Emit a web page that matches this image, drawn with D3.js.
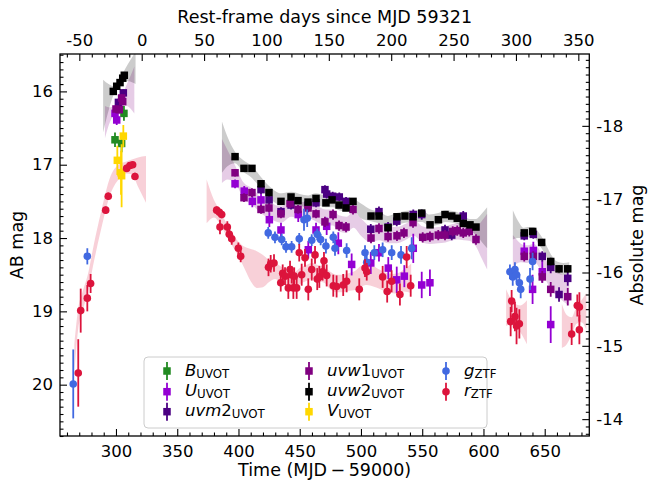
<!DOCTYPE html>
<html><head><meta charset="utf-8">
<script src="https://cdn.jsdelivr.net/npm/d3@7"></script>
<style>body{margin:0;background:#fff} svg{display:block} text{font-family:"DejaVu Sans",sans-serif;fill:#000}</style>
</head><body><svg id="c" width="649" height="487"></svg>
<script>
const redshift = 0.0184, distMod = 34.47, t0 = 321;
const xTicks = [300,350,400,450,500,550,600,650];
const topTicks = [-50,0,50,100,150,200,250,300,350];
const yTicks = [16,17,18,19,20];
const absTicks = [-18,-17,-16,-15,-14];

// [time, mag, err]
const B_UVOT = [[299.2,16.66,0.10],[304.6,16.71,0.12],[306.5,16.30,0.10]];
const U_UVOT = [[299.2,16.30,0.06],[300.6,16.39,0.07],
[397.2,17.26,0.06],[404.7,17.36,0.07],[411.3,17.50,0.08],[418.4,17.48,0.08],[425.2,17.75,0.10],[434.7,17.89,0.10],[448.8,17.68,0.10],[457.0,18.16,0.12],[463.3,17.89,0.10],[472.0,17.84,0.12],[481.5,18.07,0.15],[492.4,18.36,0.15],[508.0,18.34,0.15],[514.7,18.20,0.12],[522.3,18.41,0.15],[529.2,18.57,0.18],[535.4,18.52,0.15],[542.7,18.14,0.20],[549.6,18.64,0.18],[556.3,18.61,0.18],
[633.3,18.18,0.12],[640.1,18.70,0.20],[640.7,18.17,0.12],[648.0,18.46,0.15],[654.9,19.18,0.25]];
const uvm2_UVOT = [[302.0,16.15,0.05],[306.0,16.02,0.05],
[418.4,17.34,0.06],[425.0,17.48,0.06],[434.7,17.64,0.06],[442.9,17.55,0.06],[456.8,17.55,0.06],[463.3,17.52,0.06],[470.6,17.34,0.06],[472.0,17.40,0.06],[476.9,17.43,0.06],[482.3,17.44,0.06],[487.8,17.50,0.06],[508.0,17.88,0.07],[514.7,17.64,0.07],[522.1,17.85,0.07],[529.2,17.77,0.07],[542.7,17.68,0.07],[549.6,17.68,0.07],[568.6,17.89,0.07],[574.1,17.96,0.07],[583.5,17.70,0.07],
[633.3,17.97,0.06],[640.7,17.95,0.06],[648.0,18.25,0.07],[654.9,18.40,0.08],[661.7,18.77,0.10],[668.8,18.55,0.10]];
const uvw1_UVOT = [[300.0,16.24,0.05],[302.7,16.25,0.05],[304.6,16.09,0.05],[305.5,16.14,0.05],
[397.2,17.11,0.05],[404.5,17.45,0.06],[411.0,17.38,0.06],[418.4,17.61,0.06],[424.9,17.59,0.06],[434.7,17.67,0.06],[442.1,17.53,0.06],[448.6,17.61,0.06],[456.8,17.59,0.06],[463.3,17.67,0.06],[470.6,17.78,0.07],[477.2,17.68,0.07],[482.1,17.83,0.07],[487.8,17.85,0.07],[493.5,17.61,0.07],[508.2,18.00,0.07],[514.7,17.87,0.07],[522.1,17.98,0.07],[529.4,17.97,0.07],[535.1,17.93,0.07],[542.5,17.79,0.07],[550.4,17.99,0.07],[556.3,17.98,0.07],[563.1,17.96,0.07],[568.6,17.96,0.07],[574.9,17.91,0.07],[578.6,17.90,0.07],[583.5,17.93,0.07],[588.4,17.91,0.07],[593.9,18.02,0.07],
[633.3,18.25,0.07],[640.7,18.25,0.07],[648.0,18.53,0.08],[654.9,18.70,0.10],[668.8,18.80,0.12]];
const uvw2_UVOT = [[297.8,16.00,0.04],[300.6,15.93,0.04],[303.3,15.88,0.04],[305.5,15.82,0.04],[306.8,15.78,0.04],
[397.2,16.89,0.04],[404.5,17.05,0.04],[411.0,17.05,0.04],[418.4,17.26,0.04],[424.9,17.38,0.04],[434.7,17.50,0.04],[442.9,17.44,0.04],[448.6,17.49,0.04],[456.8,17.51,0.04],[463.3,17.46,0.04],[471.4,17.52,0.04],[476.4,17.48,0.04],[482.1,17.55,0.04],[487.8,17.59,0.04],[493.5,17.50,0.04],[508.2,17.70,0.04],[514.7,17.70,0.04],[522.1,17.86,0.04],[529.4,17.71,0.04],[535.9,17.70,0.04],[542.5,17.71,0.04],[549.6,17.66,0.04],[556.4,17.82,0.04],[563.2,17.75,0.04],[568.6,17.68,0.04],[574.1,17.70,0.04],[578.6,17.73,0.04],[583.5,17.80,0.04],[589.0,17.82,0.04],[593.9,17.85,0.04],
[633.3,17.93,0.04],[640.2,17.91,0.04],[647.5,18.06,0.04],[654.9,18.32,0.05],[661.7,18.42,0.05],[668.8,18.42,0.05]];
const V_UVOT = [[301.1,16.94,0.20],[304.1,17.11,0.30],[304.6,17.15,0.43],[306.0,16.61,0.15]];
const g_ZTF = [[265.1,19.99,0.47],[276.6,18.25,0.11],
[424.3,17.93,0.08],[429.8,17.99,0.08],[435.3,18.02,0.08],[438.8,18.12,0.08],[443.4,18.12,0.08],[449.6,18.01,0.08],[453.5,17.75,0.15],[456.1,17.73,0.12],[459.8,18.03,0.08],[464.3,17.95,0.08],[467.1,18.02,0.08],[471.4,18.11,0.10],[477.4,17.99,0.08],[478.8,18.14,0.10],[488.3,18.17,0.10],[503.3,18.20,0.10],[504.7,18.33,0.12],[510.9,18.20,0.10],[517.7,18.16,0.10],[525.1,18.20,0.10],[532.7,18.23,0.12],[541.4,18.14,0.15],
[621.6,18.46,0.10],[623.9,18.53,0.12],[625.7,18.43,0.10],[627.0,18.50,0.10],[629.3,18.61,0.12],[630.4,18.70,0.12],[638.0,18.56,0.15],[640.1,18.32,0.12]];
const r_ZTF = [[269.2,19.84,0.46],[271.2,18.99,0.30],[276.6,18.82,0.18],[279.3,18.62,0.13],[291.6,17.62,0.05],[293.7,17.43,0.05],[308.7,17.05,0.05],[311.4,17.01,0.04],[313.6,17.00,0.04],[315.5,17.16,0.05],
[382.2,17.62,0.05],[384.4,17.65,0.05],[386.3,17.68,0.05],[384.9,17.85,0.10],[390.9,17.85,0.08],[392.5,17.95,0.08],[394.5,18.01,0.08],[399.9,18.14,0.08],[401.8,18.25,0.08],[424.5,18.40,0.12],[426.3,18.35,0.12],[429.0,18.34,0.12],[434.5,18.61,0.12],[436.1,18.48,0.12],[438.0,18.52,0.12],[440.7,18.68,0.15],[442.1,18.43,0.12],[443.4,18.50,0.12],[444.8,18.68,0.15],[445.5,18.52,0.12],[447.5,18.68,0.15],[449.6,18.20,0.12],[451.6,18.50,0.15],[454.3,18.27,0.12],[457.0,18.70,0.15],[459.8,18.43,0.15],[462.5,18.23,0.12],[464.3,18.56,0.15],[466.0,18.53,0.15],[468.7,18.46,0.12],[469.8,18.31,0.12],[472.0,18.51,0.15],[477.4,18.65,0.15],[480.1,18.66,0.15],[485.5,18.64,0.15],[488.3,18.59,0.15],[498.6,18.70,0.15],[503.3,18.41,0.12],[504.7,18.46,0.12],[517.7,18.53,0.15],[521.4,18.73,0.15],[525.0,18.59,0.15],[531.8,18.77,0.15],[537.3,18.26,0.15],[540.6,18.65,0.15],
[622.2,19.14,0.20],[623.0,18.86,0.15],[625.7,19.07,0.20],[627.0,19.20,0.25],[629.3,19.17,0.20],[672.0,19.31,0.15],[676.6,18.92,0.15],[678.3,18.94,0.20],[678.3,19.25,0.20]];

// Model bands: [time, mean mag, half-width]
const w2Early = [[289.5,16.20,0.36],[294,16.08,0.18],[298,15.99,0.06],[302,15.91,0.05],[306,15.80,0.06],[310,15.74,0.12],[316,15.68,0.22]];
const w2Mid = [[386.5,16.76,0.35],[391,16.82,0.20],[397,16.90,0.08],[404,17.02,0.08],[411,17.10,0.08],[418,17.24,0.08],[425,17.37,0.08],[435,17.47,0.08],[443,17.45,0.08],[450,17.48,0.08],[457,17.50,0.08],[463,17.47,0.08],[471,17.50,0.08],[477,17.50,0.08],[482,17.54,0.08],[488,17.56,0.08],[494,17.55,0.08],[500,17.63,0.10],[508,17.69,0.08],[515,17.72,0.08],[522,17.78,0.08],[529,17.74,0.08],[536,17.71,0.08],[543,17.70,0.08],[550,17.70,0.08],[556,17.76,0.08],[563,17.74,0.08],[569,17.70,0.08],[575,17.71,0.08],[579,17.73,0.08],[584,17.78,0.08],[589,17.82,0.08],[594,17.85,0.11],[598,17.86,0.18],[603,17.86,0.28]];
const w2Late = [[624,17.82,0.20],[628,17.88,0.12],[633,17.93,0.07],[637,17.92,0.07],[641,17.92,0.07],[645,18.00,0.08],[649,18.10,0.08],[655,18.30,0.08],[660,18.40,0.08],[665,18.42,0.08],[670,18.42,0.09]];
const w1Early = [[291,16.42,0.22],[295,16.32,0.10],[299,16.25,0.06],[302,16.20,0.06],[305,16.12,0.07],[309,16.05,0.15],[315,15.98,0.32]];
const w1Mid = [[386.5,16.95,0.30],[391,17.00,0.20],[397,17.12,0.12],[404,17.35,0.11],[411,17.43,0.11],[418,17.55,0.11],[425,17.62,0.11],[435,17.68,0.11],[443,17.60,0.11],[450,17.62,0.11],[457,17.62,0.11],[463,17.66,0.11],[471,17.72,0.11],[477,17.72,0.11],[482,17.80,0.11],[488,17.82,0.11],[494,17.75,0.11],[500,17.85,0.12],[508,17.95,0.11],[515,17.92,0.11],[522,17.96,0.11],[529,17.96,0.11],[536,17.92,0.11],[543,17.86,0.11],[550,17.95,0.11],[556,17.97,0.11],[563,17.96,0.11],[569,17.95,0.11],[575,17.92,0.11],[579,17.91,0.11],[584,17.92,0.11],[589,17.93,0.11],[594,17.98,0.14],[598,18.02,0.24],[603,18.05,0.38]];
const w1Late = [[624,18.18,0.22],[630,18.20,0.13],[635,18.22,0.12],[641,18.20,0.12],[648,18.35,0.13],[655,18.55,0.15],[662,18.65,0.17],[670,18.72,0.20]];
const rEarly = [[266,19.65,0.20],[269,19.12,0.14],[273,18.85,0.13],[277,18.62,0.12],[282,18.20,0.12],[288,17.75,0.12],[295,17.30,0.12],[302,17.10,0.10],[308,17.04,0.08],[313,17.03,0.10],[318,17.10,0.20],[324.5,17.20,0.32]];
const rMid = [[374,17.50,0.30],[380,17.60,0.12],[385,17.72,0.09],[390,17.88,0.09],[395,18.02,0.09],[400,18.15,0.10],[405,18.27,0.15],[410,18.37,0.22],[415,18.43,0.25],[420,18.45,0.22],[425,18.45,0.15],[430,18.45,0.11],[435,18.50,0.11],[440,18.55,0.11],[445,18.58,0.11],[450,18.52,0.11],[455,18.48,0.11],[460,18.45,0.11],[465,18.48,0.11],[470,18.50,0.11],[475,18.58,0.12],[480,18.62,0.12],[485,18.62,0.12],[490,18.60,0.12],[495,18.58,0.13],[500,18.52,0.14],[505,18.50,0.14],[510,18.52,0.14],[515,18.56,0.13],[520,18.60,0.13],[525,18.62,0.13],[530,18.62,0.14],[535,18.58,0.15],[541,18.55,0.20]];
const rLate1 = [[618.5,18.95,0.25],[622,19.00,0.18],[626,19.05,0.15],[630,19.10,0.18],[635.5,19.15,0.30]];
const rLate2 = [[664,19.20,0.30],[668,19.25,0.20],[672,19.20,0.12],[676,19.05,0.12],[680,19.00,0.15],[684,19.00,0.25]];

const svg = d3.select('#c');
const L=60, R=589.3, T=54, Bt=436;
const x = d3.scaleLinear().domain([254.3,686.4]).range([L,R]);
const y = d3.scaleLinear().domain([15.49,20.70]).range([T,Bt]);
const xTop = d3.scaleLinear().domain(x.domain().map(t=>(t-t0)/(1+redshift))).range([L,R]);
const yAbs = d3.scaleLinear().domain(y.domain().map(m=>m-distMod)).range([T,Bt]);

svg.append('clipPath').attr('id','clip').append('rect').attr('x',L).attr('y',T).attr('width',R-L).attr('height',Bt-T);
const plot = svg.append('g').attr('clip-path','url(#clip)');

const area = d3.area().x(d=>x(d[0])).y0(d=>y(d[1]-d[2])).y1(d=>y(d[1]+d[2])).curve(d3.curveMonotoneX);
const bands = [
  [rEarly,'#dc143c'],[rMid,'#dc143c'],[rLate1,'#dc143c'],[rLate2,'#dc143c'],
  [w1Early,'#800080'],[w1Mid,'#800080'],[w1Late,'#800080'],
  [w2Early,'#000000'],[w2Mid,'#000000'],[w2Late,'#000000']
];
bands.forEach(([d,c])=>plot.append('path').datum(d).attr('d',area).attr('fill',c).attr('fill-opacity',0.2));

const series = [
  {data:B_UVOT, color:'#228b22', shape:'s', name:'B', sub:'UVOT'},
  {data:U_UVOT, color:'#9400d3', shape:'s', name:'U', sub:'UVOT'},
  {data:uvm2_UVOT, color:'#4b0082', shape:'s', name:'uvm2', sub:'UVOT'},
  {data:uvw1_UVOT, color:'#800080', shape:'s', name:'uvw1', sub:'UVOT'},
  {data:uvw2_UVOT, color:'#000000', shape:'s', name:'uvw2', sub:'UVOT'},
  {data:V_UVOT, color:'#ffd700', shape:'s', name:'V', sub:'UVOT'},
  {data:g_ZTF, color:'#4169e1', shape:'o', name:'g', sub:'ZTF'},
  {data:r_ZTF, color:'#dc143c', shape:'o', name:'r', sub:'ZTF'}
];
const SQ=7.5, RAD=3.8;
series.forEach(s=>{
  const g = plot.append('g');
  g.selectAll('line').data(s.data).join('line')
    .attr('x1',d=>x(d[0])).attr('x2',d=>x(d[0]))
    .attr('y1',d=>y(d[1]-d[2])).attr('y2',d=>y(d[1]+d[2]))
    .attr('stroke',s.color).attr('stroke-width',1.8);
  if(s.shape==='s'){
    g.selectAll('rect').data(s.data).join('rect')
      .attr('x',d=>x(d[0])-SQ/2).attr('y',d=>y(d[1])-SQ/2).attr('width',SQ).attr('height',SQ).attr('fill',s.color);
  } else {
    g.selectAll('circle').data(s.data).join('circle')
      .attr('cx',d=>x(d[0])).attr('cy',d=>y(d[1])).attr('r',RAD).attr('fill',s.color);
  }
});

// axes
const FS = 16.5, LFS = 17.5;
function drawAxis(gen, scale, major, minor, tr, fmt, pad){
  const gm = svg.append('g').attr('transform',tr).call(gen(scale).tickValues(minor).tickSize(-3.5).tickSizeOuter(0).tickFormat(''));
  const gM = svg.append('g').attr('transform',tr).call(gen(scale).tickValues(major).tickSize(-7).tickSizeOuter(0).tickPadding(pad).tickFormat(fmt));
  [gm,gM].forEach(g=>{g.select('.domain').remove(); g.selectAll('line').attr('stroke','#000').attr('stroke-width',1.1);});
  gM.selectAll('text').attr('font-size',FS).attr('font-family','DejaVu Sans').attr('fill','#000');
}
const fmtInt = d=>String(d);
const xMinor = d3.range(26,69).map(i=>i*10).filter(v=>v%50!==0);
const topMinor = d3.range(-6,36).map(i=>i*10).filter(v=>v%50!==0);
const yMinor = d3.range(155,208).map(i=>i/10).filter(v=>Math.abs(v-Math.round(v))>1e-6);
const absMinor = d3.range(-189,-137).map(i=>i/10).filter(v=>Math.abs(v-Math.round(v))>1e-6);
drawAxis(d3.axisBottom, x, xTicks, xMinor, `translate(0,${Bt})`, fmtInt, 9.5);
drawAxis(d3.axisTop, xTop, topTicks, topMinor, `translate(0,${T})`, fmtInt, 8.5);
drawAxis(d3.axisLeft, y, yTicks, yMinor, `translate(${L},0)`, fmtInt, 7);
drawAxis(d3.axisRight, yAbs, absTicks, absMinor, `translate(${R},0)`, fmtInt, 7);

svg.append('rect').attr('x',L).attr('y',T).attr('width',R-L).attr('height',Bt-T)
  .attr('fill','none').attr('stroke','#000').attr('stroke-width',1.3);

// labels
svg.append('text').attr('x',(L+R)/2).attr('y',23).attr('text-anchor','middle').attr('font-size',LFS).text('Rest-frame days since MJD 59321');
svg.append('text').attr('x',(L+R)/2).attr('y',476).attr('text-anchor','middle').attr('font-size',LFS).text('Time (MJD\u2009\u2212\u200959000)');
svg.append('text').attr('transform',`translate(23,${(T+Bt)/2}) rotate(-90)`).attr('text-anchor','middle').attr('font-size',LFS).text('AB mag');
svg.append('text').attr('transform',`translate(643,${(T+Bt)/2}) rotate(-90)`).attr('text-anchor','middle').attr('font-size',LFS).text('Absolute mag');

// legend
const lg = svg.append('g');
lg.append('rect').attr('x',144).attr('y',357).attr('width',343).attr('height',71).attr('rx',4)
  .attr('fill','#fff').attr('fill-opacity',0.8).attr('stroke','#cccccc').attr('stroke-width',1);
const colX = [167,309,446], rowY = [371,391.7,411.7];
series.forEach((s,i)=>{
  const cx = colX[Math.floor(i/3)], cy = rowY[i%3];
  lg.append('line').attr('x1',cx).attr('x2',cx).attr('y1',cy-9).attr('y2',cy+9).attr('stroke',s.color).attr('stroke-width',1.8);
  if(s.shape==='s') lg.append('rect').attr('x',cx-SQ/2).attr('y',cy-SQ/2).attr('width',SQ).attr('height',SQ).attr('fill',s.color);
  else lg.append('circle').attr('cx',cx).attr('cy',cy).attr('r',RAD).attr('fill',s.color);
  const t = lg.append('text').attr('x',cx+18).attr('y',cy+4.5).attr('font-size',16.5);
  for(const ch of s.name){
    t.append('tspan').attr('font-style',/[0-9]/.test(ch)?'normal':'italic').text(ch);
  }
  t.append('tspan').attr('font-size',11.8).attr('dy',2.2).text(s.sub);
});
</script></body></html>
